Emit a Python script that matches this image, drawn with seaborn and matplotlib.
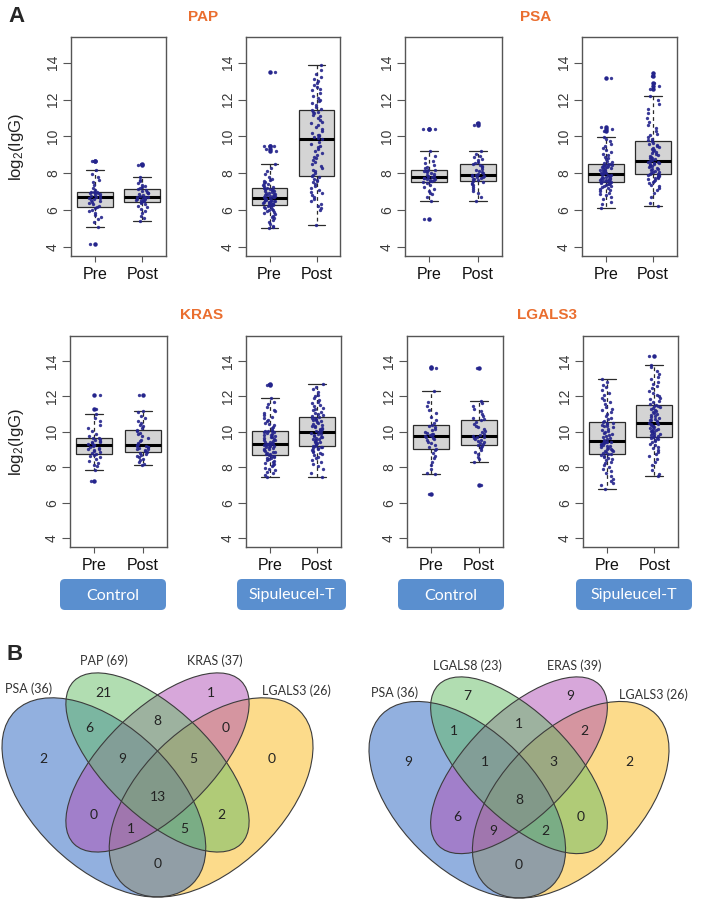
import matplotlib
matplotlib.use("Agg")
import matplotlib.pyplot as plt
from matplotlib.patches import Ellipse, FancyBboxPatch
import numpy as np
import pandas as pd
import seaborn as sns

# ---- data -------------------------------------------------------------
TIMES = ["Pre", "Post"]
ANTIGENS = ["PAP", "PSA", "KRAS", "LGALS3"]
ARMS = ["Control", "Sipuleucel-T"]

# log2(IgG) per patient
PAP_CTRL_PRE = [4.15, 5.10, 5.35, 5.50, 5.60, 5.75, 5.85, 5.95, 6.02, 6.10, 6.15, 6.22, 6.30, 6.38,
                6.45, 6.50, 6.55, 6.60, 6.63, 6.67, 6.70, 6.74, 6.78, 6.82, 6.86, 6.90, 6.93, 6.95,
                6.97, 6.99, 7.00, 7.10, 7.20, 7.35, 7.50, 7.65, 7.80, 7.95, 8.15, 8.65, 8.68]
PAP_CTRL_POST = [5.41, 5.55, 5.70, 5.85, 5.95, 6.05, 6.15, 6.22, 6.30, 6.37, 6.43, 6.47, 6.50, 6.53,
                 6.56, 6.59, 6.62, 6.64, 6.66, 6.68, 6.70, 6.73, 6.77, 6.81, 6.85, 6.90, 6.95, 7.00,
                 7.05, 7.10, 7.13, 7.18, 7.24, 7.30, 7.38, 7.45, 7.55, 7.65, 7.77, 8.44, 8.48]
PAP_SIP_PRE = [5.00, 5.05, 5.15, 5.25, 5.35, 5.45, 5.55, 5.62, 5.70, 5.76, 5.82, 5.88, 5.93, 5.98,
               6.02, 6.06, 6.10, 6.14, 6.18, 6.21, 6.25, 6.27, 6.29, 6.31, 6.33, 6.35, 6.37, 6.39,
               6.41, 6.43, 6.45, 6.47, 6.49, 6.51, 6.53, 6.55, 6.57, 6.59, 6.61, 6.63, 6.66, 6.68,
               6.70, 6.72, 6.74, 6.76, 6.78, 6.80, 6.83, 6.86, 6.89, 6.92, 6.95, 6.98, 7.01, 7.04,
               7.07, 7.10, 7.13, 7.16, 7.19, 7.22, 7.25, 7.30, 7.35, 7.40, 7.45, 7.50, 7.55, 7.62,
               7.70, 7.80, 7.95, 8.10, 8.30, 8.51, 9.20, 9.30, 9.45, 9.50, 13.50]
PAP_SIP_POST = [5.20, 6.00, 6.10, 6.20, 6.35, 6.50, 6.60, 6.70, 6.80, 6.90, 7.00, 7.10, 7.20, 7.30,
                7.40, 7.50, 7.60, 7.65, 7.70, 7.78, 7.86, 7.92, 8.00, 8.10, 8.20, 8.30, 8.40, 8.50,
                8.60, 8.70, 8.80, 8.90, 9.00, 9.10, 9.20, 9.30, 9.40, 9.50, 9.60, 9.72, 9.85, 9.90,
                9.95, 10.00, 10.05, 10.10, 10.20, 10.30, 10.40, 10.50, 10.60, 10.70, 10.80, 10.90,
                11.00, 11.10, 11.18, 11.25, 11.30, 11.35, 11.41, 11.50, 11.60, 11.70, 11.80, 11.90,
                12.00, 12.10, 12.20, 12.35, 12.50, 12.60, 12.70, 12.80, 12.90, 13.00, 13.10, 13.25,
                13.40, 13.60, 13.90]
PSA_CTRL_PRE = [5.50, 6.50, 6.70, 6.85, 6.95, 7.05, 7.15, 7.25, 7.35, 7.45, 7.51, 7.55, 7.58, 7.62,
                7.65, 7.68, 7.71, 7.74, 7.76, 7.78, 7.80, 7.83, 7.86, 7.90, 7.95, 8.00, 8.05, 8.10,
                8.14, 8.17, 8.20, 8.28, 8.35, 8.45, 8.55, 8.65, 8.80, 8.95, 9.20, 10.38, 10.42]
PSA_CTRL_POST = [6.50, 6.70, 6.90, 7.05, 7.15, 7.25, 7.35, 7.42, 7.48, 7.54, 7.59, 7.63, 7.67, 7.71,
                 7.75, 7.78, 7.81, 7.84, 7.86, 7.88, 7.91, 7.95, 8.00, 8.05, 8.12, 8.18, 8.25, 8.32,
                 8.38, 8.44, 8.50, 8.56, 8.62, 8.70, 8.78, 8.86, 8.95, 9.05, 9.20, 10.60, 10.75]
PSA_SIP_PRE = [6.13, 6.30, 6.45, 6.60, 6.70, 6.80, 6.88, 6.95, 7.02, 7.08, 7.14, 7.19, 7.24, 7.28,
               7.32, 7.36, 7.40, 7.43, 7.46, 7.49, 7.51, 7.53, 7.55, 7.57, 7.59, 7.61, 7.63, 7.65,
               7.67, 7.69, 7.71, 7.73, 7.75, 7.77, 7.79, 7.82, 7.85, 7.88, 7.90, 7.93, 7.96, 7.99,
               8.02, 8.05, 8.08, 8.11, 8.14, 8.17, 8.20, 8.23, 8.26, 8.29, 8.32, 8.35, 8.38, 8.41,
               8.43, 8.45, 8.47, 8.50, 8.52, 8.56, 8.62, 8.68, 8.75, 8.82, 8.90, 8.98, 9.06, 9.15,
               9.25, 9.35, 9.45, 9.60, 9.75, 9.85, 9.98, 10.30, 10.38, 10.50, 13.15]
PSA_SIP_POST = [6.23, 6.40, 6.70, 6.95, 7.10, 7.20, 7.30, 7.38, 7.45, 7.52, 7.58, 7.63, 7.68, 7.72,
                7.76, 7.80, 7.83, 7.86, 7.88, 7.90, 7.93, 7.97, 8.01, 8.05, 8.09, 8.13, 8.17, 8.21,
                8.25, 8.29, 8.33, 8.37, 8.41, 8.45, 8.48, 8.51, 8.54, 8.57, 8.60, 8.62, 8.65, 8.70,
                8.75, 8.80, 8.85, 8.90, 8.95, 9.00, 9.05, 9.10, 9.15, 9.20, 9.25, 9.30, 9.36, 9.42,
                9.48, 9.54, 9.60, 9.66, 9.73, 9.80, 9.88, 9.96, 10.05, 10.15, 10.30, 10.45, 10.60,
                10.80, 11.00, 11.25, 11.50, 11.75, 12.00, 12.18, 12.60, 12.75, 12.90, 13.30, 13.45]
KRAS_CTRL_PRE = [7.25, 7.87, 8.05, 8.15, 8.25, 8.35, 8.45, 8.55, 8.62, 8.68, 8.75, 8.80, 8.85, 8.90,
                 8.95, 9.00, 9.05, 9.10, 9.15, 9.19, 9.23, 9.27, 9.31, 9.35, 9.40, 9.45, 9.50, 9.55,
                 9.60, 9.63, 9.66, 9.75, 9.90, 10.05, 10.20, 10.40, 10.60, 10.80, 11.00, 11.30, 12.10]
KRAS_CTRL_POST = [8.11, 8.20, 8.30, 8.40, 8.48, 8.55, 8.62, 8.68, 8.74, 8.80, 8.85, 8.90, 8.95, 9.00,
                  9.04, 9.08, 9.12, 9.16, 9.19, 9.22, 9.25, 9.30, 9.38, 9.46, 9.55, 9.65, 9.75, 9.85,
                  9.95, 10.03, 10.10, 10.20, 10.30, 10.40, 10.50, 10.60, 10.75, 10.90, 11.10, 11.19,
                  12.10]
KRAS_SIP_PRE = [7.43, 7.55, 7.65, 7.75, 7.85, 7.92, 7.98, 8.05, 8.12, 8.18, 8.24, 8.30, 8.35, 8.40,
                8.45, 8.50, 8.54, 8.58, 8.62, 8.65, 8.68, 8.72, 8.76, 8.80, 8.84, 8.88, 8.92, 8.96,
                9.00, 9.04, 9.08, 9.12, 9.15, 9.18, 9.21, 9.24, 9.26, 9.28, 9.30, 9.31, 9.32, 9.36,
                9.40, 9.44, 9.48, 9.52, 9.56, 9.60, 9.64, 9.68, 9.72, 9.76, 9.80, 9.84, 9.88, 9.92,
                9.96, 9.99, 10.02, 10.04, 10.06, 10.12, 10.20, 10.28, 10.36, 10.44, 10.52, 10.60,
                10.68, 10.76, 10.85, 10.95, 11.05, 11.15, 11.25, 11.40, 11.55, 11.70, 11.92, 12.63,
                12.67]
KRAS_SIP_POST = [7.47, 7.70, 7.90, 8.05, 8.20, 8.32, 8.42, 8.52, 8.60, 8.68, 8.75, 8.82, 8.88, 8.93,
                 8.98, 9.02, 9.06, 9.09, 9.12, 9.15, 9.17, 9.21, 9.25, 9.29, 9.33, 9.37, 9.41, 9.45,
                 9.49, 9.53, 9.57, 9.61, 9.65, 9.69, 9.73, 9.77, 9.81, 9.85, 9.89, 9.94, 9.98, 10.02,
                 10.06, 10.10, 10.14, 10.18, 10.22, 10.26, 10.30, 10.35, 10.40, 10.45, 10.50, 10.55,
                 10.60, 10.64, 10.68, 10.72, 10.76, 10.80, 10.83, 10.88, 10.94, 11.00, 11.07, 11.14,
                 11.21, 11.28, 11.36, 11.44, 11.52, 11.60, 11.70, 11.80, 11.90, 12.00, 12.10, 12.25,
                 12.40, 12.55, 12.70]
LGALS3_CTRL_PRE = [6.50, 7.64, 7.70, 7.90, 8.10, 8.30, 8.50, 8.65, 8.80, 8.95, 9.05, 9.15, 9.25,
                   9.35, 9.45, 9.52, 9.58, 9.64, 9.69, 9.74, 9.78, 9.82, 9.86, 9.90, 9.95, 10.00,
                   10.08, 10.16, 10.24, 10.32, 10.39, 10.50, 10.65, 10.85, 11.05, 11.25, 11.45,
                   11.70, 12.30, 13.60, 13.64]
LGALS3_CTRL_POST = [7.00, 8.30, 8.45, 8.60, 8.75, 8.88, 8.98, 9.06, 9.12, 9.18, 9.23, 9.30, 9.38,
                    9.45, 9.50, 9.55, 9.60, 9.64, 9.68, 9.71, 9.74, 9.80, 9.88, 9.96, 10.05, 10.15,
                    10.25, 10.35, 10.45, 10.55, 10.64, 10.72, 10.80, 10.90, 11.00, 11.15, 11.30,
                    11.45, 11.60, 11.76, 13.60]
LGALS3_SIP_PRE = [6.79, 7.00, 7.10, 7.20, 7.35, 7.50, 7.65, 7.80, 7.92, 8.02, 8.12, 8.22, 8.30, 8.38,
                  8.45, 8.52, 8.58, 8.63, 8.68, 8.73, 8.77, 8.81, 8.85, 8.89, 8.93, 8.97, 9.01, 9.05,
                  9.09, 9.13, 9.17, 9.21, 9.25, 9.28, 9.31, 9.34, 9.37, 9.40, 9.42, 9.44, 9.46, 9.52,
                  9.58, 9.64, 9.70, 9.76, 9.82, 9.88, 9.94, 10.00, 10.06, 10.12, 10.18, 10.24, 10.30,
                  10.35, 10.40, 10.44, 10.48, 10.51, 10.54, 10.62, 10.70, 10.80, 10.90, 11.00, 11.10,
                  11.20, 11.30, 11.42, 11.54, 11.66, 11.78, 11.90, 12.05, 12.20, 12.35, 12.50, 12.65,
                  12.80, 12.97]
LGALS3_SIP_POST = [7.51, 7.60, 7.85, 8.10, 8.30, 8.48, 8.62, 8.75, 8.86, 8.96, 9.06, 9.15, 9.24,
                   9.32, 9.40, 9.47, 9.53, 9.58, 9.62, 9.66, 9.70, 9.74, 9.78, 9.82, 9.86, 9.90, 9.94,
                   9.98, 10.02, 10.06, 10.10, 10.14, 10.18, 10.22, 10.26, 10.30, 10.34, 10.38, 10.42,
                   10.46, 10.49, 10.54, 10.59, 10.64, 10.69, 10.74, 10.79, 10.84, 10.89, 10.94, 11.00,
                   11.06, 11.12, 11.18, 11.24, 11.30, 11.35, 11.40, 11.44, 11.48, 11.51, 11.58, 11.66,
                   11.74, 11.82, 11.90, 12.00, 12.10, 12.20, 12.32, 12.44, 12.56, 12.68, 12.80, 12.95,
                   13.10, 13.25, 13.45, 13.65, 13.78, 14.30]

# Venn diagrams (panel B): set labels and counts per region
VENN_LEFT_SETS = ["PSA (36)", "PAP (69)", "KRAS (37)", "LGALS3 (26)"]
VENN_RIGHT_SETS = ["PSA (36)", "LGALS8 (23)", "ERAS (39)", "LGALS3 (26)"]
# region order: 1, 2, 3, 4 only; 12, 23, 34; 123, 234; 1234; 13, 24; 134, 124; 14
VENN_LEFT_COUNTS = [2, 21, 1, 0, 6, 8, 0, 9, 5, 13, 0, 2, 1, 5, 0]
VENN_RIGHT_COUNTS = [9, 7, 9, 2, 1, 1, 2, 1, 3, 8, 6, 0, 9, 2, 0]

# ---- layout / style ---------------------------------------------------
W, H = 701, 909
ORANGE = "#ea6e2f"
DOT = "#24248c"
BOX_FILL = "#d4d4d4"
BOX_LINE = "#2b2b2b"
BTN = "#5a8fcf"

PANEL_PX = [(71, 37, 166, 256), (246, 37, 340, 256), (405, 37, 502, 256), (582, 37, 677, 256),
            (70, 336, 167, 547), (246, 336, 341, 547), (407, 336, 503, 547), (583, 336, 678, 547)]
TITLE_PX = [(203, 17), (536, 17), (202, 315), (547, 315)]
BUTTON_PX = [(60, 579, 166, 610), (237, 579, 346, 610), (398, 579, 504, 610), (576, 579, 692, 610)]
VENN_PX = [(2, 673, 313, 897), (369, 677, 669, 898)]

# VennDiagram-style quad layout in unit coordinates
ELLIPSES = [(0.35, 0.47, 0.70, 0.40, 135), (0.50, 0.57, 0.66, 0.30, 135),
            (0.50, 0.57, 0.66, 0.30, 45), (0.65, 0.47, 0.70, 0.40, 45)]
ELLIPSE_COLORS = ["#2763c1", "#65bd65", "#b050b6", "#fbb919"]
DRAW_ORDER = [3, 0, 2, 1]
REGION_XY = [(0.18, 0.58), (0.35, 0.77), (0.65, 0.77), (0.82, 0.58), (0.31, 0.67), (0.50, 0.69),
             (0.69, 0.67), (0.40, 0.58), (0.60, 0.58), (0.50, 0.47), (0.32, 0.42), (0.68, 0.42),
             (0.425, 0.38), (0.575, 0.38), (0.50, 0.28)]
SET_LABEL_XY = [(0.14, 0.78), (0.35, 0.86), (0.66, 0.86), (0.89, 0.775)]


def px_rect(x0, y0, x1, y1):
    return [x0 / W, 1 - y1 / H, (x1 - x0) / W, (y1 - y0) / H]


def main():
    sns.set_style("ticks")
    plt.rcParams["font.family"] = ["Liberation Sans", "DejaVu Sans"]
    plt.rcParams["mathtext.fontset"] = "custom"
    plt.rcParams["mathtext.rm"] = "Liberation Sans"
    plt.rcParams["mathtext.default"] = "regular"
    np.random.seed(7)  # fixes the strip jitter only

    series = {
        ("PAP", "Control"): (PAP_CTRL_PRE, PAP_CTRL_POST),
        ("PAP", "Sipuleucel-T"): (PAP_SIP_PRE, PAP_SIP_POST),
        ("PSA", "Control"): (PSA_CTRL_PRE, PSA_CTRL_POST),
        ("PSA", "Sipuleucel-T"): (PSA_SIP_PRE, PSA_SIP_POST),
        ("KRAS", "Control"): (KRAS_CTRL_PRE, KRAS_CTRL_POST),
        ("KRAS", "Sipuleucel-T"): (KRAS_SIP_PRE, KRAS_SIP_POST),
        ("LGALS3", "Control"): (LGALS3_CTRL_PRE, LGALS3_CTRL_POST),
        ("LGALS3", "Sipuleucel-T"): (LGALS3_SIP_PRE, LGALS3_SIP_POST),
    }

    fig = plt.figure(figsize=(W / 100, H / 100), dpi=100)

    overlay = fig.add_axes([0, 0, 1, 1])
    overlay.set_xlim(0, W)
    overlay.set_ylim(H, 0)
    overlay.axis("off")

    i = 0
    for antigen in ANTIGENS:
        for arm in ARMS:
            pre, post = series[(antigen, arm)]
            df = pd.DataFrame({
                "time": ["Pre"] * len(pre) + ["Post"] * len(post),
                "log2_igg": pre + post,
            })
            ax = fig.add_axes(px_rect(*PANEL_PX[i]))
            sns.boxplot(data=df, x="time", y="log2_igg", order=TIMES, ax=ax, width=0.75,
                        color=BOX_FILL, saturation=1, linecolor=BOX_LINE, linewidth=0.9,
                        whiskerprops={"linestyle": (0, (3, 2.5))},
                        medianprops={"color": "black", "linewidth": 2.2},
                        flierprops={"marker": "o", "markersize": 2.2,
                                    "markerfacecolor": DOT, "markeredgecolor": DOT})
            sns.stripplot(data=df, x="time", y="log2_igg", order=TIMES, ax=ax, color=DOT,
                          size=2.4, jitter=0.13, linewidth=0, alpha=0.9, zorder=3)
            ax.set_xlim(-0.5, 1.5)
            ax.set_ylim(3.5, 15.4)
            ax.set_yticks([4, 6, 8, 10, 12, 14])
            ax.set_xlabel("")
            ax.set_ylabel("")
            ax.tick_params(axis="y", labelsize=10, length=6, width=0.8, pad=2,
                           color="#555555", labelcolor="#3a3a3a")
            ax.tick_params(axis="x", labelsize=11.5, length=4, width=0.8, pad=4,
                           color="#555555", labelcolor="#111111")
            for t in ax.get_yticklabels():
                t.set_rotation(90)
                t.set_va("center")
            for sp in ax.spines.values():
                sp.set_visible(True)
                sp.set_color("#555555")
                sp.set_linewidth(1.0)

            x0, y0, x1, y1 = PANEL_PX[i]
            if i % 4 == 0:
                fig.text(17 / W, 1 - (y0 + y1) / 2 / H, "log$_2$(IgG)", rotation=90,
                         ha="center", va="center", fontsize=12, color="#222222")
            if i >= 4:
                bx0, by0, bx1, by1 = BUTTON_PX[i - 4]
                overlay.add_patch(FancyBboxPatch((bx0, by0), bx1 - bx0, by1 - by0,
                                                 boxstyle="round,pad=0,rounding_size=5",
                                                 fc=BTN, ec="none"))
                overlay.text((bx0 + bx1) / 2, (by0 + by1) / 2 + 1, arm, color="white",
                             fontsize=11.5, family=["Lato", "DejaVu Sans"],
                             ha="center", va="center")
            i += 1

    for antigen, (tx, ty) in zip(ANTIGENS, TITLE_PX):
        fig.text(tx / W, 1 - ty / H, antigen, color=ORANGE, fontsize=11,
                 fontweight="bold", ha="center", va="center")

    fig.text(8 / W, 1 - 17 / H, "A", fontsize=16, fontweight="bold", ha="left", va="center")
    fig.text(7 / W, 1 - 655 / H, "B", fontsize=16, fontweight="bold", ha="left", va="center")

    for rect, sets, counts in zip(VENN_PX, [VENN_LEFT_SETS, VENN_RIGHT_SETS],
                                  [VENN_LEFT_COUNTS, VENN_RIGHT_COUNTS]):
        vax = fig.add_axes(px_rect(*rect))
        vax.set_xlim(0.065, 0.935)
        vax.set_ylim(0.185, 0.826)
        vax.axis("off")
        for k in DRAW_ORDER:
            cx, cy, w, h, ang = ELLIPSES[k]
            vax.add_patch(Ellipse((cx, cy), w, h, angle=ang, fc=ELLIPSE_COLORS[k],
                                  alpha=0.5, ec="none", clip_on=False))
        for cx, cy, w, h, ang in ELLIPSES:
            vax.add_patch(Ellipse((cx, cy), w, h, angle=ang, fc="none", ec="#3c3c3c",
                                  lw=0.8, clip_on=False))
        for (x, y), n in zip(REGION_XY, counts):
            vax.text(x, y, str(n), ha="center", va="center", fontsize=10,
                     family=["Lato", "DejaVu Sans"], color="#222222")
        for (x, y), name in zip(SET_LABEL_XY, sets):
            vax.text(x, y, name, ha="center", va="center", fontsize=9,
                     family=["Lato", "DejaVu Sans"], color="#333333")

    fig.savefig("out.png", dpi=100)
    plt.close(fig)


if __name__ == "__main__":
    main()
